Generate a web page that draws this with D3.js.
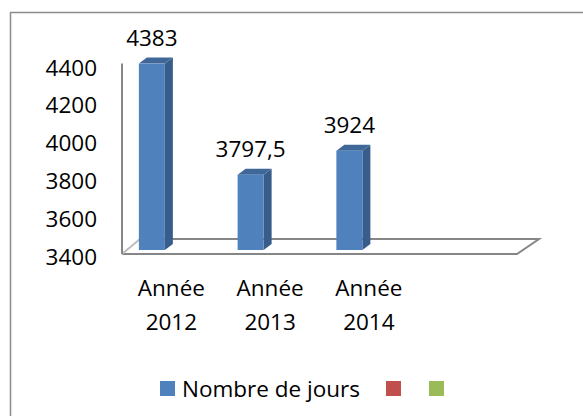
<!DOCTYPE html>
<html>
<head>
<meta charset="utf-8">
<script src="https://cdn.jsdelivr.net/npm/d3@7"></script>
<style>
  html, body { margin: 0; padding: 0; background: #fff; }
  svg { display: block; font-family: "Open Sans", Lato, sans-serif; }
</style>
</head>
<body>
<div id="container"></div>
<script>
const width = 583;
const height = 416;

// données
const categories = [["Année", "2012"], ["Année", "2013"], ["Année", "2014"], ["", ""]];
const values = [4383, 3797.5, 3924, null];
const yTicks = [3400, 3600, 3800, 4000, 4200, 4400];
const legendItems = [
  { name: "Nombre de jours", color: "#4F81BD" },
  { name: "", color: "#C0504D" },
  { name: "", color: "#9BBB59" }
];

const fontSize = 22.5;

const svg = d3.select("#container")
  .append("svg")
  .attr("width", width)
  .attr("height", height);

// cadre
svg.append("rect")
  .attr("x", 10.5).attr("y", 12.5)
  .attr("width", 600).attr("height", 420)
  .attr("fill", "none")
  .attr("stroke", "#8c8c8c")
  .attr("stroke-width", 1.5);

// profondeur 3D
const depth = { dx: 20, dy: -15 };
const barDepth = { dx: 8, dy: -6 };

const x = d3.scaleBand()
  .domain(d3.range(categories.length))
  .range([122, 517]);

const y = d3.scaleLinear()
  .domain([3400, 4400])
  .range([250, 60.4]);

const fr = d3.formatLocale({ decimal: ",", thousands: "", grouping: [3], currency: ["", "€"] });
const fmt = fr.format("");

// sol
const floorY = 254;
const x0 = x.range()[0], x1 = x.range()[1];
svg.append("path")
  .attr("d", `M${x0},${floorY}L${x1},${floorY}L${x1 + depth.dx + 2},${floorY + depth.dy}L${x0 + depth.dx - 2},${floorY + depth.dy}`)
  .attr("fill", "none")
  .attr("stroke", "#868686")
  .attr("stroke-width", 2);
svg.append("line")
  .attr("x1", x0).attr("y1", floorY)
  .attr("x2", x0 + depth.dx - 2).attr("y2", floorY + depth.dy)
  .attr("stroke", "#bdbdbd")
  .attr("stroke-width", 2);

// axe vertical
svg.append("line")
  .attr("x1", x0).attr("x2", x0)
  .attr("y1", floorY).attr("y2", y(4400) + 3)
  .attr("stroke", "#868686")
  .attr("stroke-width", 2);

svg.append("g")
  .selectAll("text")
  .data(yTicks)
  .join("text")
  .attr("x", 97)
  .attr("y", d => y(d) + 7)
  .attr("dy", "0.36em")
  .attr("text-anchor", "end")
  .attr("font-size", fontSize)
  .attr("fill", "#000")
  .text(d => d);

// barres
const barW = 26;
const barX = i => x(i) + x.bandwidth() / 2 - 19.5 - barW / 2;
const bars = svg.append("g")
  .selectAll("g")
  .data(values.map((v, i) => ({ v, i })).filter(d => d.v != null))
  .join("g");

bars.append("path")
  .attr("fill", "#385D8A")
  .attr("d", d => {
    const bx = barX(d.i) + barW, top = y(d.v), bot = y(3400);
    return `M${bx},${top}L${bx + barDepth.dx},${top + barDepth.dy}L${bx + barDepth.dx},${bot + barDepth.dy}L${bx},${bot}Z`;
  });
bars.append("path")
  .attr("fill", "#3F6899")
  .attr("d", d => {
    const bx = barX(d.i), top = y(d.v);
    return `M${bx},${top}L${bx + barDepth.dx},${top + barDepth.dy}L${bx + barW + barDepth.dx},${top + barDepth.dy}L${bx + barW},${top}Z`;
  });
bars.append("rect")
  .attr("x", d => barX(d.i))
  .attr("y", d => y(d.v))
  .attr("width", barW)
  .attr("height", d => y(3400) - y(d.v))
  .attr("fill", "#4F81BD");

bars.append("text")
  .attr("x", d => barX(d.i) + barW / 2)
  .attr("y", d => y(d.v) - 26)
  .attr("dy", "0.36em")
  .attr("text-anchor", "middle")
  .attr("font-size", fontSize)
  .attr("fill", "#000")
  .text(d => fmt(d.v));

// étiquettes des catégories
const catG = svg.append("g")
  .selectAll("text")
  .data(categories)
  .join("text")
  .attr("text-anchor", "middle")
  .attr("font-size", fontSize)
  .attr("fill", "#000");
catG.selectAll("tspan")
  .data((d, i) => d.map(t => ({ t, i })))
  .join("tspan")
  .attr("x", d => x(d.i) + x.bandwidth() / 2)
  .attr("y", (d, j) => 288 + j * 34)
  .attr("dy", "0.36em")
  .text(d => d.t);

// légende
const legendX = [160, 386, 429];
const lg = svg.append("g")
  .selectAll("g")
  .data(legendItems)
  .join("g")
  .attr("transform", (d, i) => `translate(${legendX[i]},381)`);
lg.append("rect")
  .attr("width", 15).attr("height", 15)
  .attr("fill", d => d.color);
lg.append("text")
  .attr("x", 22)
  .attr("y", 8)
  .attr("dy", "0.36em")
  .attr("font-size", fontSize)
  .attr("fill", "#000")
  .text(d => d.name);
</script>
</body>
</html>
